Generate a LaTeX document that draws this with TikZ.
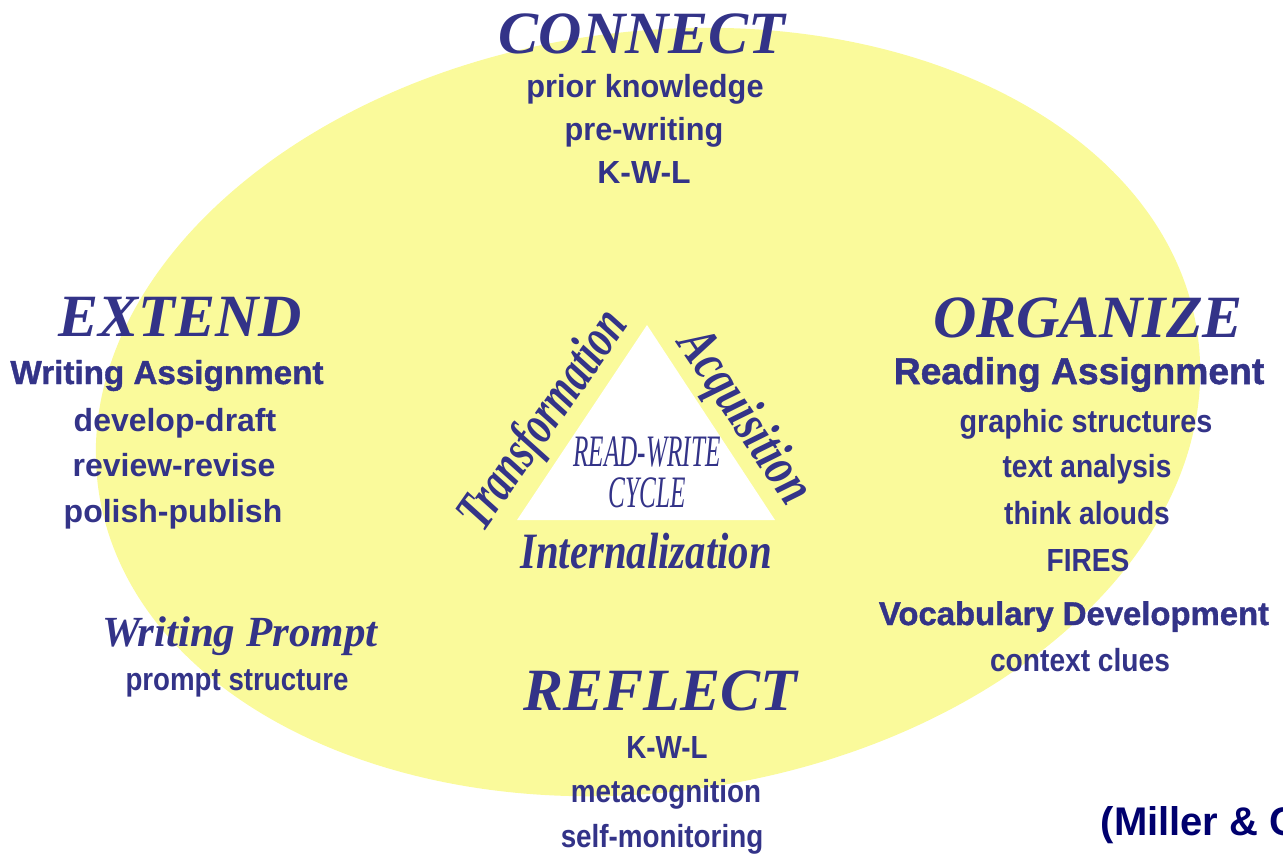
\documentclass[tikz,border=0pt]{standalone}
\usepackage{fontspec}
\setmainfont{Liberation Serif}
\setsansfont{Liberation Sans}
\newfontface\heavysans{Liberation Sans Bold}[FakeBold=1.2]
\usepackage{graphicx}
\usepackage{color}

\definecolor{ink}{RGB}{51,51,136}
\definecolor{pale}{RGB}{250,250,155}
\definecolor{navy}{RGB}{0,0,110}
\newcommand{\narrow}[2]{\scalebox{#1}[1]{#2}}

\begin{document}
\begin{tikzpicture}[%
      head/.style={text=ink, anchor=base, inner sep=0pt,
        font=\fontsize{17.07}{20}\selectfont\bfseries\itshape},
      item/.style={text=ink, anchor=base, inner sep=0pt,
        font=\fontsize{9.1}{11}\selectfont\sffamily\bfseries},
      task/.style={text=ink, anchor=base, inner sep=0pt,
        font=\fontsize{#1}{12}\selectfont\heavysans},
      cycle/.style={text=ink, inner sep=0pt,
        font=\fontsize{14.5}{16}\selectfont\bfseries\itshape},
      ]
      \useasboundingbox (0,0) rectangle (12.83,-8.56);
      \clip (0,0) rectangle (12.83,-8.56);

      \coordinate (oval) at (6.48,-4.12);
      \fill [color=pale, rotate around={8:(oval)}] (oval) ellipse [x radius=5.55, y radius=3.80];

      \coordinate (apex) at (6.47,-3.25);
      \coordinate (lcorner) at (5.17,-5.20);
      \coordinate (rcorner) at (7.75,-5.20);
      \fill [color=white] (apex) -- (lcorner) -- (rcorner) -- cycle;

      \node [head] (connect) at (6.42,-0.53) {CONNECT};
      \node [item] (know) at (6.45,-0.97) {\narrow{0.96}{prior knowledge}};
      \node [item] (prewrite) at (6.44,-1.40) {\narrow{0.96}{pre-writing}};
      \node [item] (kwltop) at (6.44,-1.83) {K-W-L};

      \node [head] (extend) at (1.80,-3.36) {EXTEND};
      \node [task=9.45] (wassign) at (1.67,-3.84) {Writing Assignment};
      \node [item] (draft) at (1.75,-4.31) {develop-draft};
      \node [item] (revise) at (1.74,-4.76) {review-revise};
      \node [item] (publish) at (1.73,-5.22) {polish-publish};
      \node [head, font=\fontsize{12.23}{14}\selectfont\bfseries\itshape] (wprompt) at (2.40,-6.46) {Writing Prompt};
      \node [item] (pstruct) at (2.37,-6.90) {\narrow{0.865}{prompt structure}};

      \node [head] (organize) at (10.88,-3.37) {ORGANIZE};
      \node [task=10.6] (rassign) at (10.79,-3.84) {Reading Assignment};
      \node [item] (graphic) at (10.86,-4.32) {\narrow{0.9}{graphic structures}};
      \node [item] (analysis) at (10.87,-4.77) {\narrow{0.88}{text analysis}};
      \node [item] (aloud) at (10.87,-5.24) {\narrow{0.88}{think alouds}};
      \node [item] (fires) at (10.88,-5.71) {\narrow{0.88}{FIRES}};
      \node [task=9.35] (vocab) at (10.74,-6.25) {Vocabulary Development};
      \node [item] (clues) at (10.80,-6.71) {\narrow{0.88}{context clues}};

      \node [head] (reflect) at (6.60,-7.10) {REFLECT};
      \node [item] (kwlbot) at (6.67,-7.58) {\narrow{0.87}{K-W-L}};
      \node [item] (meta) at (6.66,-8.02) {\narrow{0.87}{metacognition}};
      \node [item] (monitor) at (6.62,-8.47) {\narrow{0.87}{self-monitoring}};

      \node [cycle, anchor=base, font=\fontsize{12.8}{14}\selectfont\itshape] (readwrite) at (6.47,-4.66) {\narrow{0.56}{READ-WRITE}};
      \node [cycle, anchor=base, font=\fontsize{12.8}{14}\selectfont\itshape] (cyc) at (6.47,-5.07) {\narrow{0.56}{CYCLE}};
      \node [cycle, anchor=base] (intern) at (6.46,-5.68) {\narrow{0.8}{Internalization}};
      \node [cycle, rotate=55, font=\fontsize{15.9}{18}\selectfont\bfseries\itshape] (transf) at (5.45,-4.21) {\narrow{0.7}{Transformation}};
      \node [cycle, rotate=-56, font=\fontsize{15.9}{18}\selectfont\bfseries\itshape] (acq) at (7.43,-4.18) {\narrow{0.75}{Acquisition}};

      \node [text=navy, anchor=base west, inner sep=0pt,
        font=\fontsize{11.38}{13}\selectfont\sffamily\bfseries] (cite) at (11.00,-8.35) {(Miller \& C};
      \end{tikzpicture}
\end{document}
